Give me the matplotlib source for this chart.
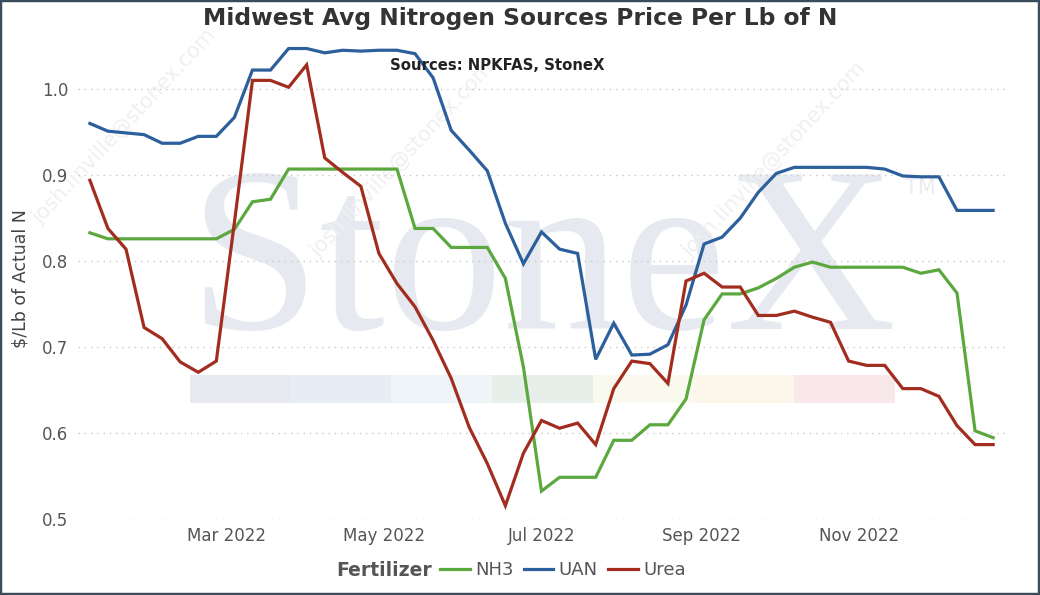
import matplotlib
matplotlib.use("Agg")
import matplotlib.pyplot as plt
import matplotlib.dates as mdates
from matplotlib.patches import Rectangle
from matplotlib.lines import Line2D
import pandas as pd

# ---------------- data ----------------
start_date = "2022-01-07"
n_weeks = 51
series_names = ["NH3", "UAN", "Urea"]
series_colors = ["#5ba83f", "#2c5f9b", "#a22d1f"]

nh3 = [0.833, 0.826, 0.826, 0.826, 0.826, 0.826, 0.826, 0.826, 0.837, 0.869,
       0.872, 0.907, 0.907, 0.907, 0.907, 0.907, 0.907, 0.907, 0.838, 0.838,
       0.816, 0.816, 0.816, 0.780, 0.677, 0.533, 0.549, 0.549, 0.549, 0.592,
       0.592, 0.610, 0.610, 0.640, 0.732, 0.762, 0.762, 0.769, 0.780, 0.793,
       0.799, 0.793, 0.793, 0.793, 0.793, 0.793, 0.786, 0.790, 0.763, 0.603,
       0.595]
uan = [0.960, 0.951, 0.949, 0.947, 0.937, 0.937, 0.945, 0.945, 0.967, 1.022,
       1.022, 1.047, 1.047, 1.042, 1.045, 1.044, 1.045, 1.045, 1.041, 1.013,
       0.952, 0.929, 0.905, 0.844, 0.797, 0.834, 0.814, 0.809, 0.686, 0.728,
       0.691, 0.692, 0.703, 0.749, 0.820, 0.828, 0.850, 0.880, 0.902, 0.909,
       0.909, 0.909, 0.909, 0.909, 0.907, 0.899, 0.898, 0.898, 0.859, 0.859,
       0.859]
urea = [0.894, 0.838, 0.814, 0.723, 0.710, 0.683, 0.671, 0.684, 0.845, 1.010,
        1.010, 1.002, 1.028, 0.920, 0.903, 0.887, 0.809, 0.774, 0.747, 0.708,
        0.664, 0.607, 0.565, 0.516, 0.577, 0.615, 0.606, 0.612, 0.587, 0.652,
        0.684, 0.681, 0.658, 0.777, 0.786, 0.770, 0.770, 0.737, 0.737, 0.742,
        0.735, 0.729, 0.684, 0.679, 0.679, 0.652, 0.652, 0.643, 0.609, 0.587,
        0.587]

y_ticks = [0.5, 0.6, 0.7, 0.8, 0.9, 1.0]
x_tick_dates = ["2022-03-01", "2022-05-01", "2022-07-01", "2022-09-01", "2022-11-01"]

title = "Midwest Avg Nitrogen Sources Price Per Lb of N"
subtitle = "Sources: NPKFAS, StoneX"
y_label = r"\$/Lb of Actual N"
legend_title = "Fertilizer"
band_colors = ["#e6e9ef", "#e8edf5", "#eff4f9", "#e6efe9", "#f9f9ee", "#fdf6ea", "#f8e8ea"]

dates = pd.date_range(start_date, periods=n_weeks, freq="7D")

# ---------------- figure ----------------
W, H = 1040, 595
fig = plt.figure(figsize=(W / 100, H / 100), dpi=100)
fig.patch.set_facecolor("white")

ax_l, ax_r, ax_t, ax_b = 78, 1005, 37, 520
ax = fig.add_axes([ax_l / W, 1 - ax_b / H, (ax_r - ax_l) / W, (ax_b - ax_t) / H])
ax.set_facecolor("white")

def fx(px):
    return px / W

def fy(py):
    return 1 - py / H

# watermark: colored band
band_x0, band_w, band_y0, band_y1 = 190, 100.7, 375, 403
for i, c in enumerate(band_colors):
    ax.add_patch(Rectangle((fx(band_x0 + i * band_w), fy(band_y1)), band_w / W,
                           (band_y1 - band_y0) / H, transform=fig.transFigure,
                           facecolor=c, edgecolor="none", zorder=0.1))

# watermark: StoneX
ax.text(fx(188), fy(329), "StoneX", transform=fig.transFigure, fontsize=170,
        family="Liberation Serif", color="#e6eaf0", ha="left", va="baseline",
        zorder=0.2)
ax.text(fx(905), fy(188), "TM", transform=fig.transFigure, fontsize=15,
        family="DejaVu Sans", color="#e9ecf1", ha="left", va="center", zorder=0.2)

# diagonal email watermarks (behind the lines)
for (sx, sy) in [(40, 225), (318, 258), (690, 258)]:
    ax.text(fx(sx), fy(sy), "josh.linville@stonex.com", fontsize=15,
            transform=fig.transFigure, clip_on=False,
            color="#f0f0f3", rotation=47, rotation_mode="anchor",
            ha="left", va="baseline", zorder=0.3)

# lines
for vals, name, col in zip([nh3, uan, urea], series_names, series_colors):
    ax.plot(dates, vals, color=col, lw=2.3, label=name, zorder=3,
            solid_joinstyle="miter")

# axes styling
pad_days = 4.6
ax.set_xlim(mdates.date2num(dates[0]) - pad_days, mdates.date2num(dates[-1]) + pad_days)
ylow = 0.5 - 0.5 / 861
ytop = 1.0 + 52 / 861
ax.set_ylim(ylow, ytop)
ax.set_yticks(y_ticks)
ax.set_yticklabels([f"{v:.1f}" for v in y_ticks])
ax.set_xticks(pd.to_datetime(x_tick_dates))
ax.xaxis.set_major_formatter(mdates.DateFormatter("%b %Y"))
for s in ax.spines.values():
    s.set_visible(False)
ax.tick_params(axis="both", length=0, labelsize=12, labelcolor="#555555")
ax.tick_params(axis="y", pad=7)
ax.tick_params(axis="x", pad=5)
ax.grid(axis="y", color="#c8c8c8", lw=1.0, linestyle=(0, (1, 3.5)))
ax.grid(axis="x", visible=False)
ax.set_axisbelow(True)
ax.set_ylabel(y_label, fontsize=12.5, color="#444444", labelpad=9)

# titles
fig.text(0.5, fy(18), title, ha="center", va="center", fontsize=16.8,
         fontweight="bold", color="#333333")
fig.text(fx(497), fy(65), subtitle, ha="center", va="center", fontsize=10.7,
         fontweight="bold", color="#222222")

# legend
fig.text(fx(432), fy(570), legend_title, ha="right", va="center", fontsize=13.5,
         fontweight="bold", color="#555555")
handles = [Line2D([], [], color=c, lw=2.3) for c in series_colors]
leg = fig.legend(handles, series_names, loc="center left",
                 bbox_to_anchor=(fx(440), fy(570)), ncol=3, frameon=False,
                 fontsize=13, handlelength=1.65, handletextpad=0.3,
                 columnspacing=0.55, borderpad=0, borderaxespad=0)
for t in leg.get_texts():
    t.set_color("#555555")

# border
fig.patches.append(Rectangle((0, 0), 1, 1, transform=fig.transFigure,
                             fill=False, edgecolor="#3b4d5c", lw=3.2))

fig.savefig("out.png", dpi=100)
